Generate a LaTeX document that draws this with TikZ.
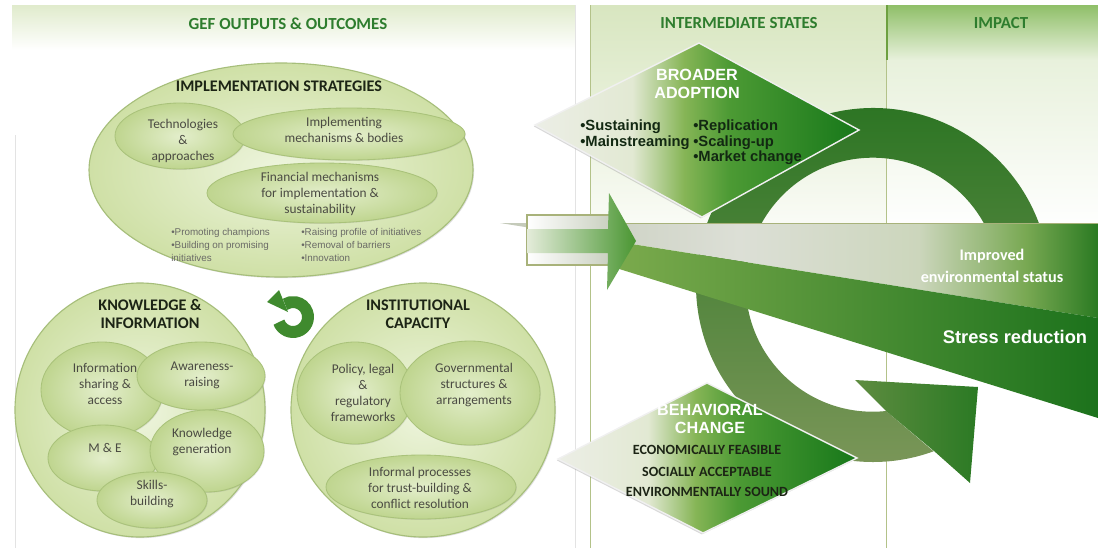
\documentclass[tikz,border=0pt]{standalone}
\usepackage{fontspec}
\setmainfont{Carlito}
\newfontfamily\arialfont{Liberation Sans}
\usetikzlibrary{arrows.meta,shadows}

\definecolor{hdrgreen}{HTML}{2E7D2E}
\definecolor{titledark}{HTML}{1C2415}
\definecolor{txtgray}{HTML}{4A4A42}
\definecolor{smallgray}{HTML}{6A6A66}
\definecolor{blobin}{HTML}{EEF5DE}
\definecolor{blobout}{HTML}{CFE0A6}
\definecolor{blobedge}{HTML}{A6BE7A}
\definecolor{pillin}{HTML}{E3EECB}
\definecolor{pillout}{HTML}{BFD58F}
\definecolor{pilledge}{HTML}{A9C27A}
\definecolor{hdrband}{HTML}{E0EBCC}
\definecolor{midband}{HTML}{D8E6C0}
\definecolor{impband}{HTML}{8FBF68}
\definecolor{implight}{HTML}{E8F1DC}
\definecolor{lineolive}{HTML}{B3C289}
\definecolor{iconedge}{HTML}{6DA040}
\definecolor{ringdark}{HTML}{2A7422}
\definecolor{ringolive}{HTML}{7A9658}
\definecolor{headleft}{HTML}{5E8C40}
\definecolor{headright}{HTML}{2B7A24}
\definecolor{stressleft}{HTML}{7EAC4E}
\definecolor{stressmid}{HTML}{4F9434}
\definecolor{stressright}{HTML}{1C721C}
\definecolor{boxgray}{HTML}{C8CFBE}
\definecolor{boxedge}{HTML}{A8B27A}
\definecolor{chevlight}{HTML}{E4ECDA}
\definecolor{chevgreen}{HTML}{4A9632}
\definecolor{icongreen}{HTML}{3F8A2E}
\definecolor{dmlight}{HTML}{ECEEE6}
\definecolor{dmlighttwo}{HTML}{E2E9D3}
\definecolor{dmmid}{HTML}{86B556}
\definecolor{dmgreen}{HTML}{4C9A34}
\definecolor{dmdark}{HTML}{17781A}
\definecolor{wgA}{HTML}{C3C9B8}
\definecolor{wgB}{HTML}{DCDFD6}
\definecolor{wgC}{HTML}{CCD6BC}
\definecolor{wgD}{HTML}{78A852}
\definecolor{wgE}{HTML}{2A7A22}
\definecolor{bulletdark}{HTML}{122812}

\pgfdeclarehorizontalshading{diamondshade}{100bp}{color(0bp)=(dmlight); color(25bp)=(dmlight); color(40bp)=(dmlighttwo); color(48bp)=(dmmid); color(55bp)=(dmgreen); color(75bp)=(dmdark); color(100bp)=(dmdark)}
\pgfdeclarehorizontalshading{wedgeshade}{100bp}{color(0bp)=(wgA); color(25bp)=(wgA); color(45bp)=(wgB); color(60bp)=(wgC); color(69bp)=(wgD); color(75bp)=(wgE); color(100bp)=(wgE)}

\tikzset{
  colhdr/.style={font=\fontsize{12}{14}\selectfont\bfseries, text=hdrgreen},
  bigblob/.style={inner color=blobin, outer color=blobout, draw=blobedge, line width=0.8pt,
    drop shadow={opacity=0.25, shadow xshift=0.8pt, shadow yshift=-0.8pt}},
  pill/.style={inner color=pillin, outer color=pillout, draw=pilledge, line width=0.6pt,
    drop shadow={opacity=0.2, shadow xshift=0.6pt, shadow yshift=-0.6pt}},
  blobtitle/.style={font=\fontsize{11.5}{13}\selectfont\bfseries, text=titledark, align=center},
  pilltext/.style={font=\fontsize{9.5}{11.5}\selectfont, text=txtgray, align=center, inner sep=0pt},
  smalllist/.style={font=\arialfont\fontsize{7}{9.3}\selectfont, text=smallgray, align=left, inner sep=0pt, anchor=north west},
  dmbox/.style={shading=diamondshade, draw=white!88!gray, line width=1pt,
    drop shadow={opacity=0.3, shadow xshift=-0.8pt, shadow yshift=-1pt}},
  dmtitle/.style={font=\arialfont\fontsize{11.5}{13}\selectfont\bfseries, text=white, align=center},
  dmlist/.style={font=\arialfont\fontsize{10.5}{11}\selectfont\bfseries, text=bulletdark, align=left, inner sep=0pt, anchor=north west},
  behline/.style={font=\fontsize{10}{12}\selectfont\bfseries, text=titledark}
}

\begin{document}
\begin{tikzpicture}[x=0.025cm,y=-0.025cm]
\useasboundingbox (0,0) rectangle (1098,548);
\fill[white] (0,0) rectangle (1098,548);

% panel backgrounds
\shade[top color=hdrband,bottom color=white] (12,5) rectangle (575,50);
\shade[top color=midband,bottom color=white] (590,5) rectangle (886,260);
\shade[top color=impband,bottom color=implight] (886,5) rectangle (1098,60);
\shade[top color=implight,bottom color=white] (886,60) rectangle (1098,230);
\draw[gray!22] (15,135) -- (15,548);
\draw[gray!22] (575,5) -- (575,548);
\foreach \x in {590,886}
  \draw[lineolive] (\x,5) -- (\x,548);
\draw[iconedge,line width=1pt] (887,5) -- (887,60);

% column headers
\node[colhdr] (gefhdr) at (288,24) {GEF OUTPUTS \& OUTCOMES};
\node[colhdr] (inthdr) at (739,23) {INTERMEDIATE STATES};
\node[colhdr] (imphdr) at (1001,23) {IMPACT};

% implementation strategies
\path[bigblob] (281,170) ellipse [x radius=192, y radius=107];
\foreach \x/\y/\a/\b in {180/136/65/33, 349/134/116/26, 322/193/115/30}
  \path[pill] (\x,\y) ellipse [x radius=\a, y radius=\b];
\node[blobtitle] (impl) at (279,86) {IMPLEMENTATION STRATEGIES};
\node[pilltext] (tech) at (183,141) {Technologies\\\&\\approaches};
\node[pilltext] (mech) at (344,130) {Implementing\\mechanisms \& bodies};
\node[pilltext] (fin) at (320,194) {Financial mechanisms\\for implementation \&\\sustainability};
\node[smalllist] (listA) at (171,228) {•Promoting champions\\•Building on promising\\initiatives};
\node[smalllist] (listB) at (301,228) {•Raising profile of initiatives\\•Removal of barriers\\•Innovation};

% knowledge & information
\path[bigblob] (140,410) ellipse [x radius=125, y radius=127];
\foreach \x/\y/\a/\b in {102/390/61/48, 201/376/64/34, 103/458/55/33, 207/451/57/41, 152/500/55/28}
  \path[pill] (\x,\y) ellipse [x radius=\a, y radius=\b];
\node[blobtitle] (know) at (150,314) {KNOWLEDGE \&\\INFORMATION};
\node[pilltext] (info) at (105,384) {Information\\sharing \&\\access};
\node[pilltext] (aware) at (202,375) {Awareness-\\raising};
\node[pilltext] (mande) at (105,448) {M \& E};
\node[pilltext] (kgen) at (202,442) {Knowledge\\generation};
\node[pilltext] (skills) at (152,494) {Skills-\\building};

% institutional capacity
\path[bigblob] (423,410) ellipse [x radius=132, y radius=127];
\foreach \x/\y/\a/\b in {355/393/58/51, 470/393/70/52, 421/487/95/32}
  \path[pill] (\x,\y) ellipse [x radius=\a, y radius=\b];
\node[blobtitle] (insti) at (418,314) {INSTITUTIONAL\\CAPACITY};
\node[pilltext] (policy) at (363,393) {Policy, legal\\\&\\regulatory\\frameworks};
\node[pilltext] (govt) at (474,385) {Governmental\\structures \&\\arrangements};
\node[pilltext] (informal) at (420,488) {Informal processes\\for trust-building \&\\conflict resolution};

% cycle icon
\draw[line width=8.5pt, color=icongreen]
  (293,317) ++(-200:15) arc[start angle=-200, end angle=-482, radius=15];
\fill[icongreen] (267,302) -- (279,290) -- (288,312) -- cycle;

% big circular arrow
\path[top color=ringdark, bottom color=ringolive]
  (873,285) ++(-10:177) arc[start angle=-10, end angle=-290, radius=177]
  -- (886,411) arc[start angle=-276, end angle=-10, radius=127] -- cycle;
\path[left color=headleft, right color=headright]
  (886,411) -- (855,380) -- (978,387) -- (970,483) -- (934,451) -- cycle;

% result bands
\path[shading=wedgeshade] (500,223) -- (1098,223) -- (1098,318) -- cycle;
\draw[boxedge] (527,223) -- (1098,223);
\path[left color=stressleft, middle color=stressmid, right color=stressright]
  (600,239) -- (1098,318) -- (1098,418) -- (600,263) -- cycle;
\path[left color=white, right color=boxgray, draw=boxedge, line width=0.8pt] (527,215) rectangle (612,265);
\path[left color=chevlight, right color=chevgreen]
  (527,229) -- (608,229) -- (609,193) -- (636,241) -- (607,290) -- (608,253) -- (527,253) -- cycle;
\node[font=\fontsize{11.5}{15.5}\selectfont\bfseries, text=white, align=center] (improved) at (992,266) {Improved\\environmental status};
\node[font=\arialfont\fontsize{13}{15}\selectfont\bfseries, text=white] (stress) at (1015,337) {Stress reduction};

% broader adoption
\path[dmbox] (535,125) -- (699,43) -- (859,130) -- (702,217) -- cycle;
\node[dmtitle] (broad) at (697,84) {BROADER\\ADOPTION};
\node[dmlist] (broadA) at (580,120) {•Sustaining\\•Mainstreaming};
\node[dmlist] (broadB) at (693,120) {•Replication\\•Scaling-up\\•Market change};

% behavioral change
\path[dmbox] (558,459) -- (707,383) -- (857,458) -- (703,533) -- cycle;
\node[dmtitle] (behav) at (710,419) {BEHAVIORAL\\CHANGE};
\foreach \t/\y [count=\i] in {ECONOMICALLY FEASIBLE/450, SOCIALLY ACCEPTABLE/472, ENVIRONMENTALLY SOUND/492}
  \node[behline] (beh\i) at (707,\y) {\t};
\end{tikzpicture}
\end{document}
